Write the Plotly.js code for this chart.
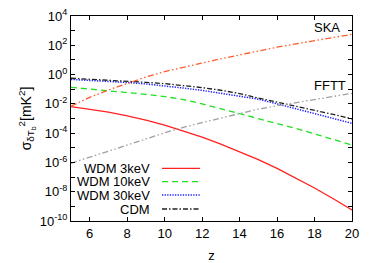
<!DOCTYPE html>
<html><head><meta charset="utf-8">
<script src="https://cdn.plot.ly/plotly-3.0.1.min.js"></script>
<style>html,body{margin:0;padding:0;background:#fff}#c{width:375px;height:263px}</style>
</head><body><div id="c"></div>
<script>
const z = [5,6,7,8,9,10,11,12,13,14,15,16,17,18,19,20];
const wdm3 = [6.5e-3,4.4e-3,2.75e-3,1.5e-3,7.8e-4,3.5e-4,1.45e-4,5.4e-5,1.8e-5,5.6e-6,1.55e-6,3.9e-7,8.7e-8,1.8e-8,3.3e-9,5.6e-10];
const wdm10 = [0.135,0.105,0.0813,0.0617,0.0447,0.0316,0.0195,0.01,4.68e-3,2.24e-3,1.07e-3,4.79e-4,2.09e-4,8.91e-5,3.72e-5,1.55e-5];
const wdm30 = [0.468,0.407,0.347,0.288,0.229,0.170,0.120,0.0832,0.0537,0.0339,0.0209,0.01,4.79e-3,2.24e-3,1.05e-3,4.68e-4];
const cdm = [0.562,0.490,0.417,0.355,0.295,0.240,0.182,0.129,0.0851,0.0501,0.0251,0.0135,7.08e-3,3.72e-3,1.91e-3,9.55e-4];
const skaZ = [5,6,7,8,9,10,11,12,13,14,15,16,17,18,19,20];
const ska = [7e-3,0.028,0.089,0.24,0.68,1.6,3.2,6.3,12,22,42,74,126,214,355,560];
const ffttZ = [5,6,7,8,9,10,10.5,11,12,13,14,15,16,17,18,19,20];
const fftt = [8.7e-7,2.2e-6,5.9e-6,1.5e-5,4e-5,1.05e-4,1.66e-4,2.5e-4,5.2e-4,1.07e-3,2.2e-3,4.4e-3,7.4e-3,0.012,0.0195,0.032,0.052];
const legendNames = ["WDM 3keV","WDM 10keV","WDM 30keV","CDM"];
const yTickVals = [-10,-9,-8,-7,-6,-5,-4,-3,-2,-1,0,1,2,3,4];

const styles = [
  {color:"#ff2020", dash:"solid", width:1.3},
  {color:"#20e020", dash:"6px,4px", width:1.3},
  {color:"#2020ff", dash:"1.3px,1.3px", width:1.5},
  {color:"#202020", dash:"5px,2px,1.5px,2px", width:1.3}
];
const series = [wdm3,wdm10,wdm30,cdm];
const traces = series.map((s,i)=>({x:z,y:s,mode:"lines",type:"scatter",
  line:{color:styles[i].color,dash:styles[i].dash,width:styles[i].width},showlegend:false,hoverinfo:"none"}));
traces.push({x:skaZ,y:ska,mode:"lines",line:{color:"#ff5a28",dash:"6px,2.5px,1.5px,2.5px,1.5px,2.5px",width:1.3},showlegend:false});
traces.push({x:ffttZ,y:fftt,mode:"lines",line:{color:"#a0a0a0",dash:"6px,2.5px,1.5px,2.5px,1.5px,2.5px",width:1.3},showlegend:false});

const tickText = yTickVals.map(v => (v%2===0) ? "10<sup>"+v+"</sup>" : "");
const fontF = "Liberation Sans, Arial, sans-serif";

const annotations = [
  {xref:"paper",yref:"paper",x:0.966,y:0.945,xanchor:"right",yanchor:"middle",text:"SKA",showarrow:false,font:{size:13,color:"#000",family:fontF}},
  {xref:"paper",yref:"paper",x:0.985,y:0.663,xanchor:"right",yanchor:"middle",text:"FFTT",showarrow:false,font:{size:13,color:"#000",family:fontF}}
];
const shapes = [];
const rowY = [168.3,181.7,195,209];
const plotTop = 16, plotH = 205, plotL = 71, plotW = 281;
legendNames.forEach((n,i)=>{
  const yp = 1 - (rowY[i]-plotTop)/plotH;
  annotations.push({xref:"paper",yref:"paper",x:(152-plotL)/plotW,y:yp,xanchor:"right",yanchor:"middle",
    text:n,showarrow:false,font:{size:13,color:"#000",family:fontF}});
  shapes.push({type:"line",xref:"paper",yref:"paper",x0:(162-plotL)/plotW,x1:(200-plotL)/plotW,y0:yp,y1:yp,
    line:{color:styles[i].color,dash:styles[i].dash,width:styles[i].width}});
});

const layout = {
  width:375,height:263,
  margin:{l:71,r:23,t:16,b:42,pad:0},
  paper_bgcolor:"#fff",plot_bgcolor:"#fff",
  font:{family:fontF,size:13,color:"#000"},
  showlegend:false,
  xaxis:{range:[5,20],tickvals:[6,8,10,12,14,16,18,20],ticks:"inside",ticklen:4,tickcolor:"#000",
    showline:true,linecolor:"#000",linewidth:1,mirror:"ticks",showgrid:false,zeroline:false,
    tickfont:{size:13,family:fontF},
    title:{text:"z",font:{size:13,family:fontF},standoff:11}},
  yaxis:{type:"log",range:[-10,4],tickvals:yTickVals.map(v=>Math.pow(10,v)),ticktext:tickText,
    ticks:"inside",ticklen:4,tickcolor:"#000",showline:true,linecolor:"#000",linewidth:1,mirror:"ticks",
    showgrid:false,zeroline:false,tickfont:{size:13,family:fontF},
    title:{text:"σ<sub>δT<sub>b</sub></sub><sup>2</sup>[mK<sup>2</sup>]",font:{size:14,family:fontF},standoff:4}},
  annotations:annotations,
  shapes:shapes
};
Plotly.newPlot("c",traces,layout,{staticPlot:true,displayModeBar:false});
</script></body></html>
